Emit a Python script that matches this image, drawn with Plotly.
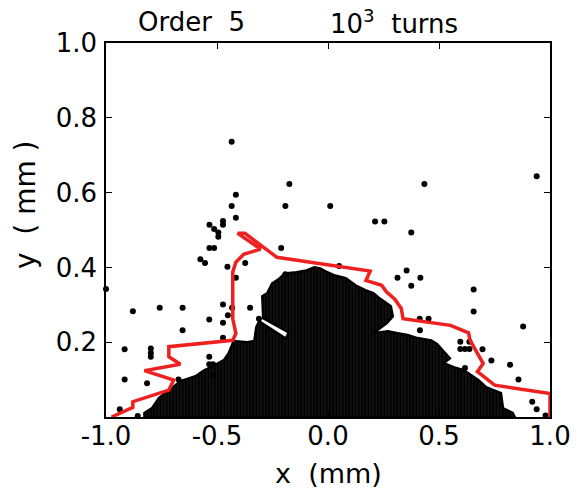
import plotly.graph_objects as go

# ---- data ----
# dense (surviving grid) region outline
dense_x = [-0.827, -0.827, -0.792, -0.761, -0.704, -0.664, -0.597, -0.558, -0.518, -0.469,
           -0.447, -0.425, -0.363, -0.332, -0.323, -0.310, -0.190, -0.177, -0.292, -0.296,
           -0.274, -0.252, -0.217, -0.195, -0.142, -0.097, -0.062, -0.035, -0.009, 0.027,
           0.080, 0.124, 0.168, 0.204, 0.226, 0.257, 0.283, 0.292, 0.265, 0.204,
           0.270, 0.314, 0.358, 0.403, 0.465, 0.491, 0.522, 0.549, 0.522, 0.566,
           0.611, 0.646, 0.677, 0.712, 0.743, 0.779, 0.788, 0.832, 0.841, -0.827]
dense_y = [0.000, 0.011, 0.024, 0.051, 0.077, 0.096, 0.109, 0.125, 0.136, 0.152,
           0.171, 0.203, 0.200, 0.203, 0.240, 0.256, 0.210, 0.226, 0.264, 0.323,
           0.331, 0.357, 0.371, 0.384, 0.387, 0.392, 0.400, 0.397, 0.389, 0.379,
           0.371, 0.352, 0.339, 0.331, 0.320, 0.307, 0.296, 0.269, 0.251, 0.224,
           0.229, 0.224, 0.219, 0.211, 0.205, 0.195, 0.176, 0.157, 0.144, 0.133,
           0.125, 0.112, 0.099, 0.080, 0.072, 0.064, 0.024, 0.011, 0.000, 0.000]

# isolated surviving particles
pts_x = [-0.434, -0.174, -0.415, -0.434, -0.192, 0.010, -0.415, -0.473, -0.473, -0.534,
         -0.513, -0.494, -0.494, -0.534, -0.513, -0.211, -0.575, -0.554, -0.453, -0.373,
         -0.415, -0.192, -1.000,
         0.940, 0.434, 0.212, 0.254, 0.375, 0.050, 0.354, 0.313, 0.416, 0.375,
         0.656, 0.656, 0.879, 0.413, 0.453, 0.414, 0.596, 0.637, 0.596, 0.617,
         0.637, 0.696, 0.736, 0.820, 0.858, 0.617, 0.920, 0.940, 0.980,
         -0.879, -0.758, -0.655, -0.655, -0.535, -0.473, -0.473, -0.432, -0.351, -0.451,
         -0.473, -0.916, -0.798, -0.798, -0.798, -0.916, -0.815, -0.673, -0.535, -0.518,
         -0.535, -0.518, -0.938, -0.857, -0.311]
pts_y = [0.736, 0.623, 0.594, 0.564, 0.564, 0.564, 0.533, 0.524, 0.514, 0.514,
         0.503, 0.493, 0.482, 0.452, 0.452, 0.452, 0.422, 0.412, 0.402, 0.412,
         0.372, 0.382, 0.342,
         0.644, 0.623, 0.523, 0.523, 0.493, 0.404, 0.392, 0.372, 0.372, 0.351,
         0.341, 0.282, 0.242, 0.263, 0.263, 0.232, 0.201, 0.201, 0.182, 0.182,
         0.182, 0.181, 0.151, 0.140, 0.100, 0.131, 0.041, 0.021, 0.004,
         0.283, 0.292, 0.292, 0.232, 0.261, 0.301, 0.252, 0.292, 0.292, 0.272,
         0.212, 0.181, 0.183, 0.171, 0.161, 0.100, 0.090, 0.100, 0.161, 0.141,
         0.141, 0.112, 0.021, 0.003, 0.263]

# dynamic aperture boundary (red)
da_x = [-0.975, -0.879, -0.879, -0.717, -0.695, -0.827, -0.665, -0.717, -0.717, -0.429,
        -0.415, -0.422, -0.429, -0.429, -0.415, -0.380, -0.304, -0.407, -0.374, -0.230,
        0.190, 0.171, 0.242, 0.264, 0.301, 0.330, 0.338, 0.552, 0.633, 0.640,
        0.699, 0.673, 0.751, 1.000, 1.000]
da_y = [0.000, 0.026, 0.041, 0.072, 0.099, 0.124, 0.141, 0.161, 0.188, 0.205,
        0.223, 0.241, 0.263, 0.388, 0.414, 0.435, 0.449, 0.491, 0.491, 0.427,
        0.390, 0.365, 0.352, 0.334, 0.315, 0.290, 0.263, 0.245, 0.225, 0.205,
        0.143, 0.121, 0.085, 0.063, 0.000]

x_ticks = [-1.0, -0.5, 0.0, 0.5, 1.0]
x_ticktext = ["-1.0", "-0.5", "0.0", "0.5", "1.0"]
y_ticks = [0.2, 0.4, 0.6, 0.8, 1.0]
y_ticktext = ["0.2", "0.4", "0.6", "0.8", "1.0"]

FONT = "DejaVu Sans"

fig = go.Figure()
fig.add_trace(go.Scatter(
    x=dense_x, y=dense_y, mode="lines", fill="toself",
    line=dict(color="black", width=2.5),
    fillcolor="black",
    fillpattern=dict(shape="|", size=3.2, solidity=0.12, fgcolor="#9a9a9a",
                     fgopacity=0.5, bgcolor="black", fillmode="replace"),
    hoverinfo="skip", showlegend=False))
fig.add_trace(go.Scatter(
    x=pts_x, y=pts_y, mode="markers",
    marker=dict(color="black", size=6, line=dict(width=0)),
    cliponaxis=False, showlegend=False))
fig.add_trace(go.Scatter(
    x=da_x, y=da_y, mode="lines",
    line=dict(color="#ee2020", width=3.5),
    cliponaxis=False, showlegend=False))

axis_common = dict(showline=True, linecolor="black", linewidth=1.5, mirror="ticks",
                   ticks="inside", ticklen=6, tickwidth=1.3, tickcolor="black",
                   showgrid=False, zeroline=False,
                   tickfont=dict(family=FONT, size=26, color="black"))
fig.update_xaxes(range=[-1, 1], tickvals=x_ticks, ticktext=x_ticktext,
                 ticklabelstandoff=-5, **axis_common)
fig.update_yaxes(range=[0, 1], tickvals=y_ticks, ticktext=y_ticktext,
                 ticklabelstandoff=2, **axis_common)

ann_font = dict(family=FONT, size=26, color="black")
fig.update_layout(
    width=583, height=498,
    margin=dict(l=106, r=25, t=43, b=81),
    plot_bgcolor="white", paper_bgcolor="white",
    annotations=[
        dict(text="Order  5", x=0.192, y=1.057, xref="paper", yref="paper",
             xanchor="center", yanchor="middle", showarrow=False, font=ann_font),
        dict(text="10<sup>3</sup>  turns", x=0.648, y=1.057, xref="paper", yref="paper",
             xanchor="center", yanchor="middle", showarrow=False, font=ann_font),
        dict(text="x  (mm)", x=0.50, y=-0.150, xref="paper", yref="paper",
             xanchor="center", yanchor="middle", showarrow=False,
             font=dict(family=FONT, size=27, color="black")),
        dict(text="y  ( mm )", x=-0.18, y=0.567, xref="paper", yref="paper",
             xanchor="center", yanchor="middle", showarrow=False, textangle=-90,
             font=dict(family=FONT, size=28, color="black")),
    ],
)

fig.write_html("out.html",
               config={"displayModeBar": False},
               post_script="document.body.style.margin='0';document.body.style.overflow='hidden';")
